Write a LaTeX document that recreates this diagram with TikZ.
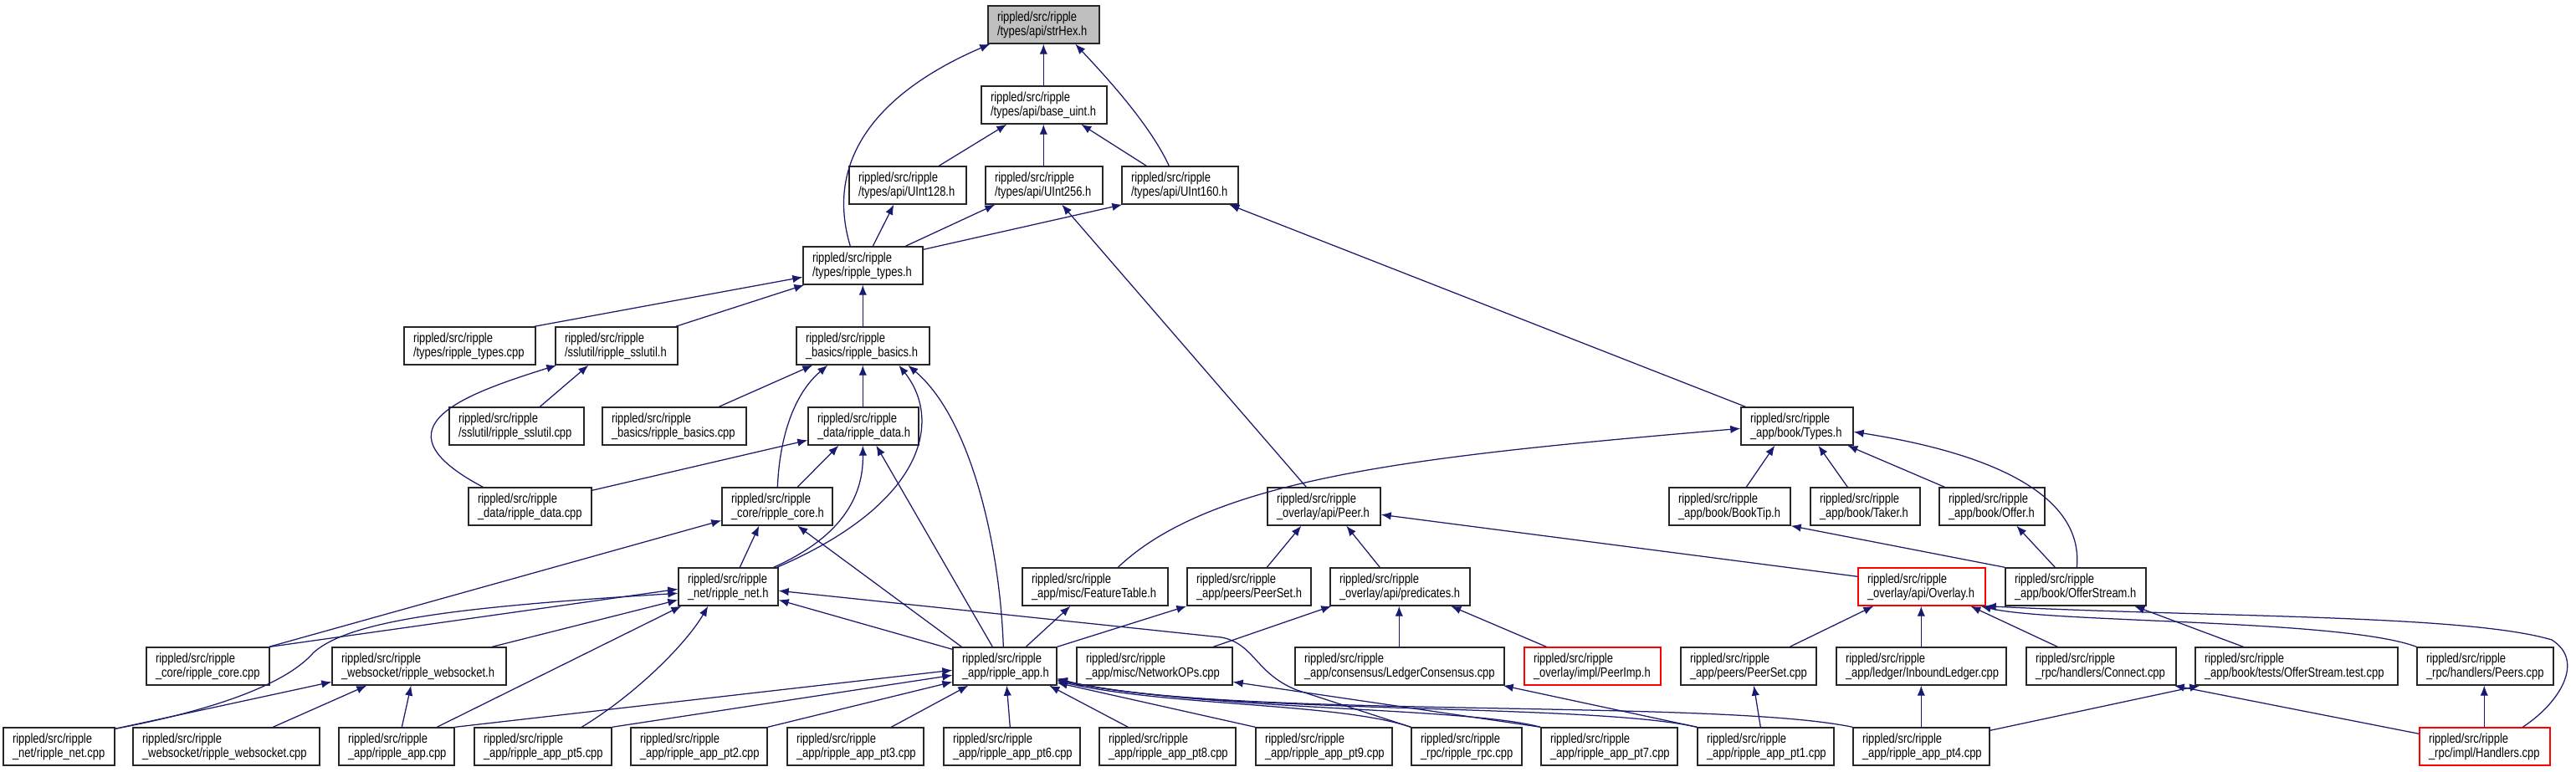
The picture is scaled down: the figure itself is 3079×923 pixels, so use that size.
\documentclass[tikz,border=0pt]{standalone}
\usepackage{fontspec}
\usetikzlibrary{arrows.meta}
\newfontfamily\nodefont[FakeStretch=0.81]{Liberation Sans}
\definecolor{edgec}{HTML}{191970}
\definecolor{boxgray}{HTML}{BFBFBF}
\tikzset{
  box/.style={draw=black!85, line width=1.4pt, rectangle, inner xsep=11pt, inner ysep=0pt,
    minimum height=45pt, font={\nodefont\fontsize{16}{17}\selectfont}, align=left, fill=white},
  dep/.style={draw=edgec, line width=1.25pt, arrows={Latex[length=12pt,width=9.5pt]-}},
}
\newcommand\mkbox[6][]{%
  \pgfmathsetmacro\bw{#4-#3}%
  \pgfmathsetmacro\tw{#4-#3-22}%
  \pgfmathsetmacro\cx{(#3+#4)/2}%
  \pgfmathsetmacro\cy{#5+22.5}%
  \node[box,#1,minimum width=\bw pt,text width=\tw pt] (#2) at (\cx,\cy) {rippled/src/ripple\\#6};}
\begin{document}
\begin{tikzpicture}[x=1pt,y=-1pt]
\fill[white] (0,0) rectangle (3079,923);
\useasboundingbox (0,0) rectangle (3079,923);
% row 0-3
\mkbox[fill=boxgray]{strhex}{1181}{1314}{7}{/types/api/strHex.h}
\mkbox{baseuint}{1173}{1323}{103}{/types/api/base\_uint.h}
\mkbox{uint128}{1015}{1155}{199}{/types/api/UInt128.h}
\mkbox{uint256}{1178}{1318}{199}{/types/api/UInt256.h}
\mkbox{uint160}{1341}{1480}{199}{/types/api/UInt160.h}
\mkbox{rtypesh}{960}{1103}{295}{/types/ripple\_types.h}
% row 4
\mkbox{rtypescpp}{483}{640}{391}{/types/ripple\_types.cpp}
\mkbox{sslh}{664}{810}{391}{/sslutil/ripple\_sslutil.h}
\mkbox{basicsh}{952}{1111}{391}{\_basics/ripple\_basics.h}
% row 5
\mkbox{sslcpp}{537}{698}{487}{/sslutil/ripple\_sslutil.cpp}
\mkbox{basicscpp}{720}{892}{487}{\_basics/ripple\_basics.cpp}
\mkbox{datah}{966}{1098}{487}{\_data/ripple\_data.h}
\mkbox{typesh}{2081}{2215}{487}{\_app/book/Types.h}
% row 6
\mkbox{datacpp}{560}{707}{583}{\_data/ripple\_data.cpp}
\mkbox{coreh}{863}{995}{583}{\_core/ripple\_core.h}
\mkbox{peerh}{1515}{1650}{583}{\_overlay/api/Peer.h}
\mkbox{booktip}{1995}{2140}{583}{\_app/book/BookTip.h}
\mkbox{taker}{2164}{2295}{583}{\_app/book/Taker.h}
\mkbox{offer}{2318}{2444}{583}{\_app/book/Offer.h}
% row 7
\mkbox{neth}{811}{930}{679}{\_net/ripple\_net.h}
\mkbox{feat}{1222}{1396}{679}{\_app/misc/FeatureTable.h}
\mkbox{peerseth}{1419}{1567}{679}{\_app/peers/PeerSet.h}
\mkbox{pred}{1590}{1757}{679}{\_overlay/api/predicates.h}
\mkbox[draw=red]{overlay}{2221}{2373}{679}{\_overlay/api/Overlay.h}
\mkbox{ofs}{2397}{2565}{679}{\_app/book/OfferStream.h}
% row 8
\mkbox{corecpp}{175}{322}{774}{\_core/ripple\_core.cpp}
\mkbox{wsh}{397}{605}{774}{\_websocket/ripple\_websocket.h}
\mkbox{apph}{1139}{1263}{774}{\_app/ripple\_app.h}
\mkbox{netops}{1287}{1473}{774}{\_app/misc/NetworkOPs.cpp}
\mkbox{ledcons}{1548}{1798}{774}{\_app/consensus/LedgerConsensus.cpp}
\mkbox[draw=red]{peerimp}{1822}{1985}{774}{\_overlay/impl/PeerImp.h}
\mkbox{peersetcpp}{2009}{2171}{774}{\_app/peers/PeerSet.cpp}
\mkbox{inbound}{2195}{2398}{774}{\_app/ledger/InboundLedger.cpp}
\mkbox{connect}{2422}{2601}{774}{\_rpc/handlers/Connect.cpp}
\mkbox{ofstest}{2624}{2866}{774}{\_app/book/tests/OfferStream.test.cpp}
\mkbox{peerscpp}{2889}{3052}{774}{\_rpc/handlers/Peers.cpp}
% row 9
\mkbox{netcpp}{4}{137}{870}{\_net/ripple\_net.cpp}
\mkbox{wscpp}{159}{382}{870}{\_websocket/ripple\_websocket.cpp}
\mkbox{appcpp}{405}{543}{870}{\_app/ripple\_app.cpp}
\mkbox{pt5}{567}{731}{870}{\_app/ripple\_app\_pt5.cpp}
\mkbox{pt2}{754}{917}{870}{\_app/ripple\_app\_pt2.cpp}
\mkbox{pt3}{941}{1104}{870}{\_app/ripple\_app\_pt3.cpp}
\mkbox{pt6}{1128}{1291}{870}{\_app/ripple\_app\_pt6.cpp}
\mkbox{pt8}{1314}{1477}{870}{\_app/ripple\_app\_pt8.cpp}
\mkbox{pt9}{1501}{1664}{870}{\_app/ripple\_app\_pt9.cpp}
\mkbox{rpccpp}{1687}{1819}{870}{\_rpc/ripple\_rpc.cpp}
\mkbox{pt7}{1842}{2005}{870}{\_app/ripple\_app\_pt7.cpp}
\mkbox{pt1}{2029}{2192}{870}{\_app/ripple\_app\_pt1.cpp}
\mkbox{pt4}{2215}{2378}{870}{\_app/ripple\_app\_pt4.cpp}
\mkbox[draw=red]{handlers}{2892}{3048}{870}{\_rpc/impl/Handlers.cpp}
% edges
\draw[dep] ([xshift=67pt]strhex.south west) -- ([xshift=75pt]baseuint.north west);
\draw[dep] ([xshift=3pt]strhex.south west) .. controls (1050,110) and (985,190) .. ([xshift=57pt]rtypesh.north west);
\draw[dep] ([xshift=105pt]strhex.south west) .. controls (1325,95) and (1375,150) .. ([xshift=57pt]uint160.north west);
\draw[dep] ([xshift=31pt]baseuint.south west) -- ([xshift=108pt]uint128.north west);
\draw[dep] ([xshift=75pt]baseuint.south west) -- ([xshift=70pt]uint256.north west);
\draw[dep] ([xshift=120pt]baseuint.south west) -- ([xshift=30pt]uint160.north west);
\draw[dep] ([xshift=54pt]uint128.south west) -- ([xshift=84pt]rtypesh.north west);
\draw[dep] ([xshift=12pt]uint256.south west) -- ([xshift=123pt]rtypesh.north west);
\draw[dep] ([xshift=1pt]uint160.south west) -- ([yshift=-4pt]rtypesh.north east);
\draw[dep] ([xshift=92pt]uint256.south west) -- ([xshift=47pt]peerh.north west);
\draw[dep] ([xshift=129pt]uint160.south west) -- ([xshift=6pt]typesh.north west);
\draw[dep] ([yshift=-37pt]rtypesh.north west) -- ([xshift=-2pt]rtypescpp.north east);
\draw[dep] ([xshift=2pt]rtypesh.south west) -- ([xshift=-3pt]sslh.north east);
\draw[dep] ([xshift=72pt]rtypesh.south west) -- ([xshift=80pt]basicsh.north west);
\draw[dep] ([xshift=40pt]sslh.south west) -- ([xshift=109pt]sslcpp.north west);
\draw[dep] ([xshift=20pt]basicsh.south west) -- ([xshift=140pt]basicscpp.north west);
\draw[dep] ([xshift=80pt]basicsh.south west) -- ([xshift=66pt]datah.north west);
\draw[dep] ([xshift=2pt]sslh.south west) .. controls (560,470) and (440,510) .. ([xshift=18pt]datacpp.north west);
\draw[dep] ([yshift=-40pt]datah.north west) -- ([yshift=-4pt]datacpp.north east);
\draw[dep] ([xshift=38pt]basicsh.south west) .. controls (950,470) and (932,520) .. ([xshift=67pt]coreh.north west);
\draw[dep] ([xshift=37pt]datah.south west) -- ([xshift=91pt]coreh.north west);
\draw[dep] ([xshift=123pt]basicsh.south west) .. controls (1125,500) and (1110,600) .. ([xshift=-2pt]neth.north east);
\draw[dep] ([xshift=66pt]datah.south west) .. controls (1032,590) and (1010,640) .. ([xshift=-6pt]neth.north east);
\draw[dep] ([xshift=134pt]basicsh.south west) .. controls (1160,500) and (1195,650) .. ([xshift=61pt]apph.north west);
\draw[dep] ([xshift=82pt]datah.south west) -- ([xshift=48pt]apph.north west);
\draw[dep] ([xshift=91pt]coreh.south west) -- ([xshift=11pt]apph.north west);
\draw[dep] ([xshift=45pt]coreh.south west) -- ([xshift=74pt]neth.north west);
\draw[dep] ([yshift=-40pt]coreh.north west) -- ([xshift=-1pt]corecpp.north east);
\draw[dep] ([yshift=-26pt]neth.north west) -- (corecpp.north east);
\draw[dep] ([yshift=-31pt]neth.north west) .. controls (560,725) and (420,740) .. (375,780) .. controls (340,820) and (250,850) .. ([yshift=-2pt]netcpp.north east);
\draw[dep] ([yshift=-39pt]neth.north west) -- ([xshift=192pt]wsh.north west);
\draw[dep] ([xshift=4pt]neth.south west) -- ([xshift=118pt]appcpp.north west);
\draw[dep] ([xshift=36pt]neth.south west) .. controls (820,770) and (760,830) .. ([xshift=129pt]pt5.north west);
\draw[dep] ([yshift=-39pt]neth.north east) -- ([yshift=-3pt]apph.north west);
\draw[dep] ([yshift=-28pt]neth.north east) -- (1460,762) .. controls (1500,770) and (1500,805) .. (1550,825) -- (rpccpp.north west);
\draw[dep] ([yshift=-42pt]wsh.north west) -- ([yshift=-2pt]netcpp.north east);
\draw[dep] ([xshift=42pt]wsh.south west) -- ([xshift=168pt]wscpp.north west);
\draw[dep] ([xshift=95pt]wsh.south west) -- ([xshift=76pt]appcpp.north west);
\draw[dep] ([yshift=-28pt]apph.north west) -- (appcpp.north east);
\draw[dep] ([yshift=-34pt]apph.north west) -- (pt5.north east);
\draw[dep] ([yshift=-42pt]apph.north west) -- (pt2.north east);
\draw[dep] ([xshift=19pt]apph.south west) -- ([xshift=125pt]pt3.north west);
\draw[dep] ([xshift=65pt]apph.south west) -- ([xshift=80pt]pt6.north west);
\draw[dep] ([xshift=116pt]apph.south west) -- ([xshift=35pt]pt8.north west);
\draw[dep] ([yshift=-43pt]apph.north east) -- (pt9.north west);
\draw[dep] ([yshift=-41pt]apph.north east) .. controls (1400,845) and (1600,840) .. (rpccpp.north west);
\draw[dep] ([yshift=-40pt]apph.north east) .. controls (1450,850) and (1750,845) .. (pt7.north west);
\draw[dep] ([yshift=-39pt]apph.north east) .. controls (1450,855) and (1900,840) .. (pt1.north west);
\draw[dep] ([yshift=-38pt]apph.north east) .. controls (1450,860) and (2050,835) .. (pt4.north west);
\draw[dep] ([xshift=58pt]feat.south west) -- ([xshift=88pt]apph.north west);
\draw[dep] (peerseth.south west) -- (apph.north east);
\draw[dep] ([yshift=-26pt]typesh.north west) .. controls (1700,545) and (1450,570) .. ([xshift=115pt]feat.north west);
\draw[dep] ([xshift=41pt]peerh.south west) -- ([xshift=96pt]peerseth.north west);
\draw[dep] ([xshift=95pt]peerh.south west) -- ([xshift=60pt]pred.north west);
\draw[dep] ([yshift=-33pt]peerh.north east) -- ([yshift=-11pt]overlay.north west);
\draw[dep] ([xshift=2pt]pred.south west) -- ([xshift=164pt]netops.north west);
\draw[dep] ([xshift=83pt]pred.south west) -- ([xshift=125pt]ledcons.north west);
\draw[dep] ([xshift=145pt]pred.south west) -- ([xshift=27pt]peerimp.north west);
\draw[dep] ([yshift=-42pt]netops.north east) -- (pt7.north west);
\draw[dep] ([xshift=-2pt]ledcons.south east) -- (pt1.north west);
\draw[dep] ([xshift=41pt]typesh.south west) -- ([xshift=93pt]booktip.north west);
\draw[dep] ([xshift=93pt]typesh.south west) -- ([xshift=45pt]taker.north west);
\draw[dep] ([xshift=128pt]typesh.south west) -- ([xshift=7pt]offer.north west);
\draw[dep] ([yshift=-30pt]typesh.north east) .. controls (2400,545) and (2490,600) .. ([xshift=86pt]ofs.north west);
\draw[dep] (booktip.south east) -- (ofs.north west);
\draw[dep] ([xshift=93pt]offer.south west) -- ([xshift=60pt]ofs.north west);
\draw[dep] ([xshift=19pt]overlay.south west) -- ([xshift=131pt]peersetcpp.north west);
\draw[dep] ([xshift=76pt]overlay.south west) -- ([xshift=102pt]inbound.north west);
\draw[dep] ([xshift=135pt]overlay.south west) -- ([xshift=38pt]connect.north west);
\draw[dep] ([xshift=-6pt]overlay.south east) .. controls (2450,745) and (2800,740) .. (peerscpp.north west);
\draw[dep] (overlay.south east) .. controls (2650,738) and (2950,735) .. (3050,765) .. controls (3090,790) and (3060,840) .. ([xshift=124pt]handlers.north west);
\draw[dep] ([xshift=155pt]ofs.south west) -- ([xshift=58pt]ofstest.north west);
\draw[dep] ([xshift=88pt]peersetcpp.south west) -- ([xshift=76pt]pt1.north west);
\draw[dep] ([xshift=102pt]inbound.south west) -- ([xshift=82pt]pt4.north west);
\draw[dep] ([xshift=6pt]ofstest.south west) -- ([yshift=-4pt]pt4.north east);
\draw[dep] ([xshift=-3pt]connect.south east) -- ([yshift=-8pt]handlers.north west);
\draw[dep] ([xshift=81pt]peerscpp.south west) -- ([xshift=78pt]handlers.north west);
\end{tikzpicture}
\end{document}
